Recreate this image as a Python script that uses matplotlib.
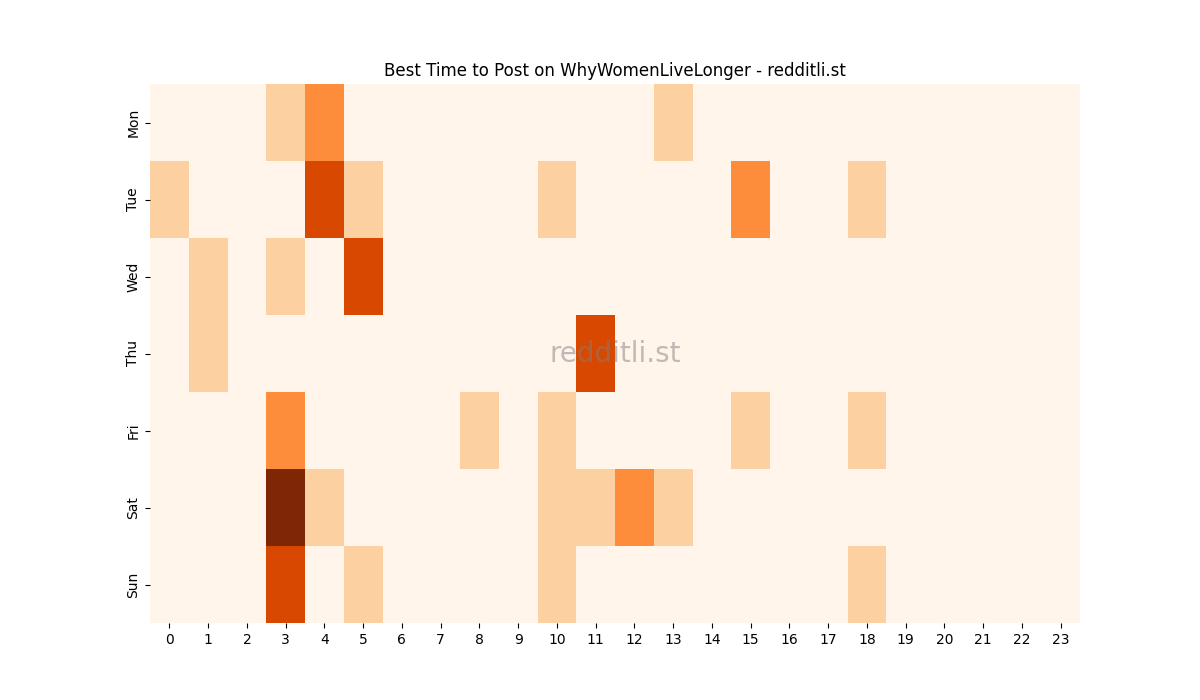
import matplotlib
matplotlib.use("Agg")
import matplotlib.pyplot as plt
import seaborn as sns
import numpy as np

days = ["Mon", "Tue", "Wed", "Thu", "Fri", "Sat", "Sun"]
hours = list(range(24))
mon = {3: 1, 4: 2, 13: 1}
tue = {0: 1, 4: 3, 5: 1, 10: 1, 15: 2, 18: 1}
wed = {1: 1, 3: 1, 5: 3}
thu = {1: 1, 11: 3}
fri = {3: 2, 8: 1, 10: 1, 15: 1, 18: 1}
sat = {3: 4, 4: 1, 10: 1, 11: 1, 12: 2, 13: 1}
sun = {3: 3, 5: 1, 10: 1, 18: 1}
rows = [mon, tue, wed, thu, fri, sat, sun]

data = np.zeros((7, 24))
for i, r in enumerate(rows):
    for h, v in r.items():
        data[i, h] = v

fig, ax = plt.subplots(figsize=(12, 7), dpi=100)
sns.heatmap(data, cmap="Oranges", cbar=False, ax=ax, vmin=0, vmax=4,
            xticklabels=hours, yticklabels=days)
ax.set_title("Best Time to Post on WhyWomenLiveLonger - redditli.st")
ax.text(0.5, 0.5, "redditli.st", transform=ax.transAxes, fontsize=20,
        color="gray", alpha=0.5, ha="center", va="center")
fig.savefig("out.png")
